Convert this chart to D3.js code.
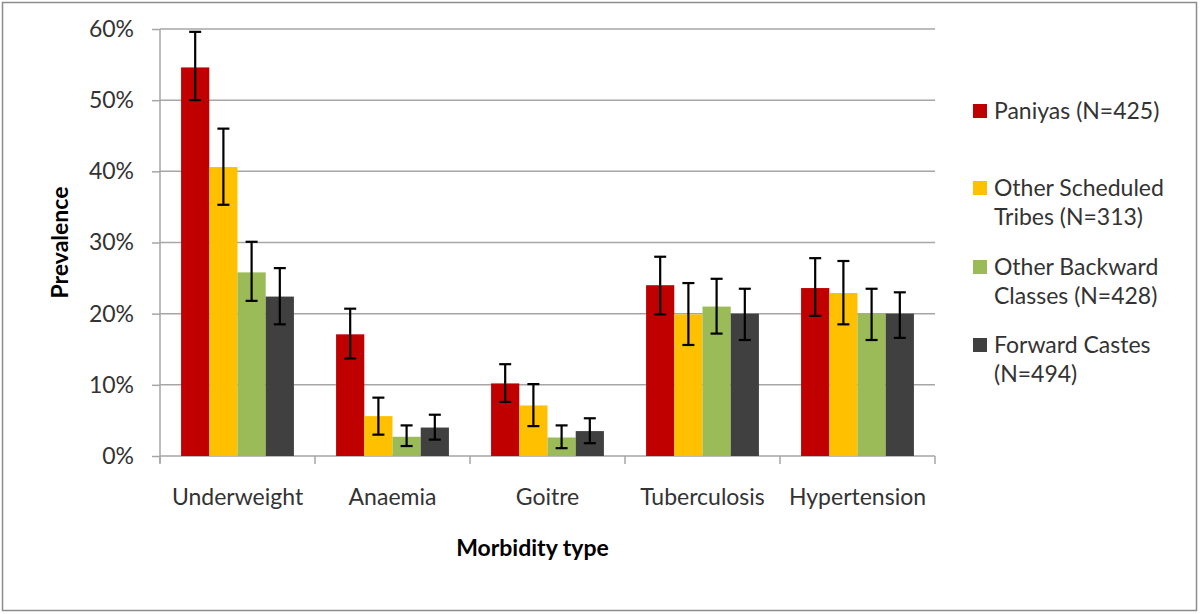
<!DOCTYPE html>
<html><head><meta charset="utf-8">
<script src="https://cdn.jsdelivr.net/npm/d3@7"></script>
<style>body{margin:0;background:#fff;}svg{display:block;font-family:Lato,"Open Sans",sans-serif;}</style>
</head><body><svg id="c" width="1200" height="614"></svg>
<script>
const categories = ["Underweight","Anaemia","Goitre","Tuberculosis","Hypertension"];
const seriesNames = ["Paniyas (N=425)","Other Scheduled Tribes (N=313)","Other Backward Classes (N=428)","Forward Castes (N=494)"];
const legendLines = [["Paniyas (N=425)"],["Other Scheduled","Tribes (N=313)"],["Other Backward","Classes (N=428)"],["Forward Castes","(N=494)"]];
const colors = ["#C00000","#FFC000","#9BBB59","#404040"];
const paniyas   = [0.546,0.171,0.102,0.240,0.236];
const otherST   = [0.406,0.056,0.071,0.199,0.229];
const otherBC   = [0.258,0.027,0.026,0.210,0.200];
const forward   = [0.224,0.040,0.035,0.200,0.200];
const paniyasLo = [0.500,0.137,0.076,0.199,0.197];
const paniyasHi = [0.596,0.207,0.129,0.280,0.278];
const otherSTLo = [0.353,0.030,0.042,0.156,0.185];
const otherSTHi = [0.460,0.082,0.101,0.243,0.274];
const otherBCLo = [0.218,0.014,0.011,0.172,0.163];
const otherBCHi = [0.301,0.043,0.043,0.249,0.235];
const forwardLo = [0.185,0.023,0.018,0.163,0.166];
const forwardHi = [0.264,0.058,0.053,0.235,0.230];
const yTicks = [0,0.1,0.2,0.3,0.4,0.5,0.6];

const values = [paniyas, otherST, otherBC, forward];
const lows = [paniyasLo, otherSTLo, otherBCLo, forwardLo];
const highs = [paniyasHi, otherSTHi, otherBCHi, forwardHi];

const FS = 23;
const TXT = "#333";
const svg = d3.select("#c");
svg.append("rect").attr("x",2.5).attr("y",2.5).attr("width",1194).attr("height",608)
  .attr("fill","#fff").attr("stroke","#8c8c8c").attr("stroke-width",1.5);

const L=160, R=935, T=29, B=456;
const x = d3.scaleBand().domain(categories).range([L,R]).paddingInner(0).paddingOuter(0);
const y = d3.scaleLinear().domain([0,0.6]).range([B,T]);
const bw = x.bandwidth();
const inner = d3.scaleBand().domain(d3.range(4)).range([bw*0.136, bw*0.864]).padding(0);

// gridlines
svg.append("g").selectAll("line").data(yTicks.filter(d=>d>0)).join("line")
  .attr("x1",L).attr("x2",R).attr("y1",d=>y(d)).attr("y2",d=>y(d))
  .attr("stroke","#a6a6a6").attr("stroke-width",1.5);

// y axis
const yAxis = d3.axisLeft(y).tickValues(yTicks).tickFormat(d3.format(".0%")).tickSize(8).tickPadding(18);
const gy = svg.append("g").attr("transform",`translate(${L},0)`).call(yAxis);
gy.select(".domain").attr("stroke","#a6a6a6").attr("stroke-width",1.5).attr("d",`M0,${T}V${B+7}`);
gy.selectAll(".tick line").attr("stroke","#a6a6a6").attr("stroke-width",1.5);
gy.selectAll(".tick text").attr("font-size",FS).attr("fill",TXT).attr("font-family","Lato,sans-serif");

// x axis
const gx = svg.append("g").attr("transform",`translate(0,${B})`);
gx.append("line").attr("x1",L).attr("x2",R).attr("y1",0).attr("y2",0).attr("stroke","#a6a6a6").attr("stroke-width",1.5);
const bounds = categories.map(c=>x(c)).concat([R]);
gx.selectAll("line.tk").data(bounds).join("line").attr("class","tk")
  .attr("x1",d=>d).attr("x2",d=>d).attr("y1",0).attr("y2",8).attr("stroke","#a6a6a6").attr("stroke-width",1.5);
gx.selectAll("text").data(categories).join("text")
  .attr("x",d=>x(d)+bw/2).attr("y",49).attr("text-anchor","middle")
  .attr("font-size",FS).attr("fill",TXT).text(d=>d);

// bars
const groups = svg.append("g").selectAll("g").data(d3.range(4)).join("g");
groups.selectAll("rect").data(s=>categories.map((c,i)=>({s,c,v:values[s][i],lo:lows[s][i],hi:highs[s][i]}))).join("rect")
  .attr("x",d=>x(d.c)+inner(d.s)).attr("width",inner.bandwidth())
  .attr("y",d=>y(d.v)).attr("height",d=>B-y(d.v)).attr("fill",d=>colors[d.s]);

// error bars
const eg = svg.append("g").attr("stroke","#000").attr("stroke-width",2.2);
d3.range(4).forEach(s=>{
  categories.forEach((c,i)=>{
    const cx = x(c)+inner(s)+inner.bandwidth()/2;
    eg.append("line").attr("x1",cx).attr("x2",cx).attr("y1",y(highs[s][i])).attr("y2",y(lows[s][i]));
    eg.append("line").attr("x1",cx-6).attr("x2",cx+6).attr("y1",y(highs[s][i])).attr("y2",y(highs[s][i]));
    eg.append("line").attr("x1",cx-6).attr("x2",cx+6).attr("y1",y(lows[s][i])).attr("y2",y(lows[s][i]));
  });
});

// axis titles
svg.append("text").attr("x",(L+R)/2-15).attr("y",556).attr("text-anchor","middle")
  .attr("font-size",FS).attr("font-weight","bold").attr("fill","#000").text("Morbidity type");
svg.append("text").attr("transform",`translate(68,${(T+B)/2}) rotate(-90)`).attr("text-anchor","middle")
  .attr("font-size",FS).attr("font-weight","bold").attr("fill","#000").text("Prevalence");

// legend
const legY = [111,188,267,345];
const lg = svg.append("g");
legendLines.forEach((lines,i)=>{
  lg.append("rect").attr("x",973).attr("y",legY[i]-7).attr("width",14).attr("height",14).attr("fill",colors[i]);
  lines.forEach((t,j)=>{
    lg.append("text").attr("x",994).attr("y",legY[i]+8+j*29).attr("font-size",FS).attr("fill",TXT).text(t);
  });
});
</script></body></html>
